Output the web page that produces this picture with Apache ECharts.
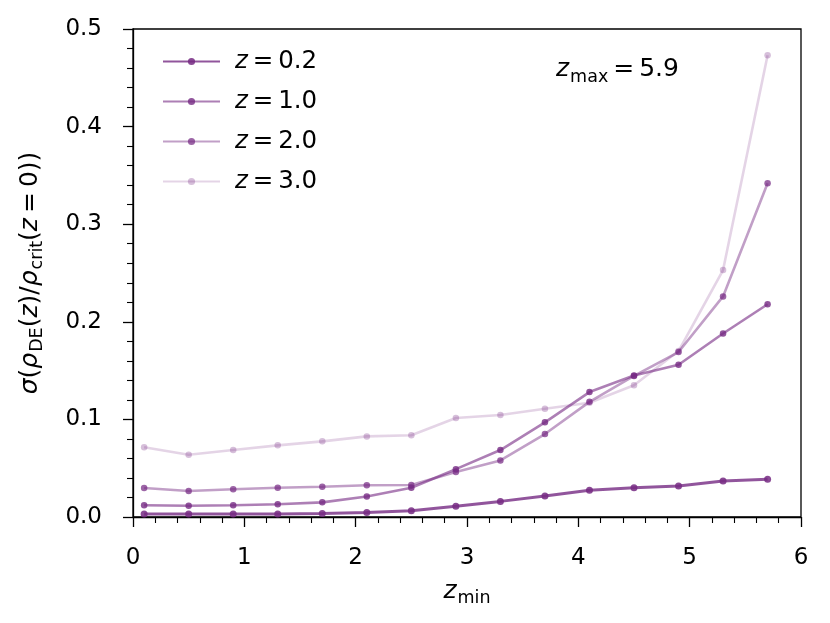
<!DOCTYPE html>
<html>
<head>
<meta charset="utf-8">
<script src="https://cdn.jsdelivr.net/npm/echarts@6/dist/echarts.min.js"></script>
<style>html,body{margin:0;padding:0;background:#fff}#c{width:830px;height:623px}</style>
</head>
<body>
<div id="c"></div>
<script>
const zmin = [0.1,0.5,0.9,1.3,1.7,2.1,2.5,2.9,3.3,3.7,4.1,4.5,4.9,5.3,5.7];
const sigmaZ02 = [0.003,0.003,0.003,0.003,0.0035,0.0045,0.0065,0.011,0.016,0.0215,0.0275,0.030,0.0318,0.0368,0.0386];
const sigmaZ10 = [0.012,0.0115,0.012,0.013,0.015,0.021,0.030,0.049,0.0686,0.097,0.128,0.145,0.156,0.188,0.218];
const sigmaZ20 = [0.0297,0.0266,0.0284,0.030,0.031,0.0325,0.0328,0.046,0.058,0.085,0.118,0.1445,0.169,0.226,0.342];
const sigmaZ30 = [0.0714,0.0638,0.0686,0.0734,0.0775,0.0826,0.0837,0.1014,0.1045,0.111,0.117,0.135,0.170,0.253,0.473];
const seriesNames = ['0.2','1.0','2.0','3.0'];
const seriesValues = [sigmaZ02, sigmaZ10, sigmaZ20, sigmaZ30];
const xTicks = [0,1,2,3,4,5,6];

const lineAlpha = [0.8, 0.6, 0.45, 0.2];
const markAlpha = [0.85, 0.8, 0.72, 0.3];
const widths = [3, 2.6, 2.6, 2.6];

const BASE = '#762a83';
const FONT = 'DejaVu Sans';
const FS = 23;
const MFS = 25;

const chart = echarts.init(document.getElementById('c'), null, {renderer:'canvas'});

const series = seriesNames.map((n, i) => ({
  name: n,
  type: 'line',
  data: zmin.map((x, j) => [x, seriesValues[i][j]]),
  symbol: 'circle',
  symbolSize: i === 0 ? 7 : 6.5,
  showSymbol: true,
  lineStyle: {color: BASE, width: widths[i], opacity: lineAlpha[i]},
  itemStyle: {color: BASE, opacity: markAlpha[i]},
  emphasis: {disabled: true},
  z: 2 + i,
  animation: false
}));

const rich = {
  i: {fontFamily: FONT, fontSize: MFS, fontStyle: 'italic', color: '#000', lineHeight: 34},
  n: {fontFamily: FONT, fontSize: MFS, color: '#000', lineHeight: 34},
  s: {fontFamily: FONT, fontSize: 17.5, color: '#000', padding: [15, 0, 0, 1], lineHeight: 34}
};

chart.setOption({
  animation: false,
  backgroundColor: '#fff',
  grid: {left: 133, right: 29, top: 29, bottom: 106, show: true, borderColor: '#000', borderWidth: 1.3, backgroundColor: '#fff'},
  legend: {
    left: 157, top: 44, orient: 'vertical',
    itemWidth: 57, itemHeight: 9, itemGap: 15,
    data: seriesNames,
    formatter: n => '{i|z}{n|\u2009=\u2009' + n + '}',
    textStyle: {fontFamily: FONT, fontSize: 24, color: '#000', padding: [0,0,0,10], rich: {
      i: {fontFamily: FONT, fontSize: 24.5, fontStyle: 'italic', color: '#000'},
      n: {fontFamily: FONT, fontSize: 24.5, color: '#000'}
    }},
    selectedMode: false
  },
  xAxis: {
    type: 'value', min: 0, max: 6, interval: 1,
    name: '{i|z}{s|min}', nameLocation: 'middle', nameGap: 56,
    nameTextStyle: {rich: rich},
    axisLine: {show: true, onZero: false, lineStyle: {color: '#000', width: 1.3}},
    axisTick: {show: true, inside: false, length: 10, lineStyle: {color: '#000', width: 1.3}},
    minorTick: {show: true, splitNumber: 5, length: 6, lineStyle: {color: '#000', width: 1.1}},
    axisLabel: {fontFamily: FONT, fontSize: FS, color: '#000', margin: 30,
      formatter: v => xTicks.includes(v) ? String(v) : ''},
    splitLine: {show: false}
  },
  yAxis: {
    type: 'value', min: 0, max: 0.5, interval: 0.1,
    name: '{i|σ}{n|(}{i|ρ}{s|DE}{n|(}{i|z}{n|)/}{i|ρ}{s|crit}{n|(}{i|z}{n|\u2009=\u20090))}',
    nameLocation: 'middle', nameGap: 86, nameRotate: 90,
    nameTextStyle: {rich: rich},
    axisLine: {show: true, onZero: false, lineStyle: {color: '#000', width: 1.3}},
    axisTick: {show: true, inside: false, length: 10, lineStyle: {color: '#000', width: 1.3}},
    minorTick: {show: true, splitNumber: 5, length: 6, lineStyle: {color: '#000', width: 1.1}},
    axisLabel: {fontFamily: FONT, fontSize: FS, color: '#000', margin: 31,
      formatter: v => v.toFixed(1)},
    splitLine: {show: false}
  },
  graphic: [{
    type: 'text', left: 556, top: 53, z: 10,
    style: {
      text: '{i|z}{s|max}{n|\u2009=\u20095.9}',
      rich: rich
    }
  }],
  series: series
});
</script>
</body>
</html>
